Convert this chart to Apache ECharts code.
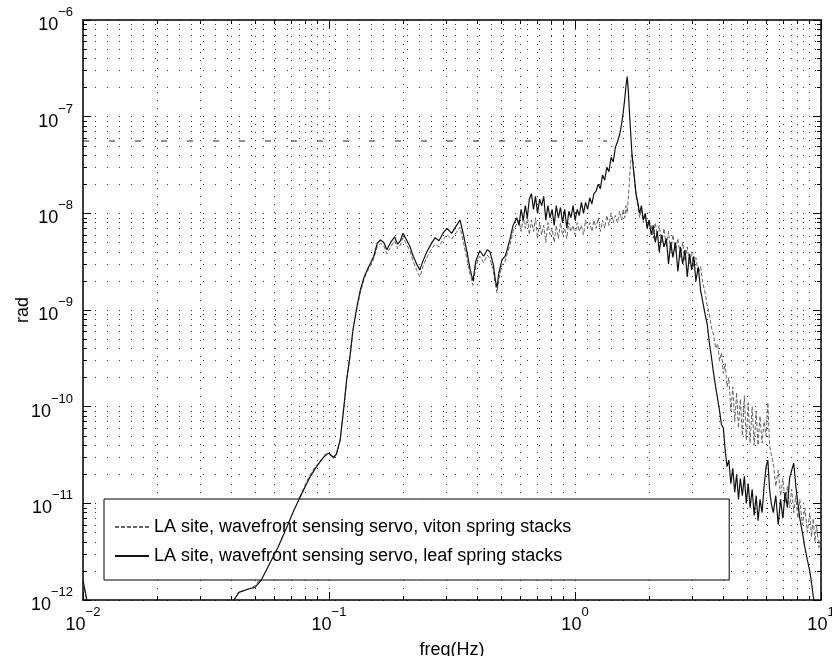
<!DOCTYPE html>
<html><head><meta charset="utf-8">
<script src="https://cdn.jsdelivr.net/npm/echarts@6/dist/echarts.min.js"></script>
<style>html,body{margin:0;padding:0;background:#fff}#c{width:832px;height:656px}</style>
</head><body><div id="c"></div>
<script>
const freqHz = [
0.0100,0.0103,0.0106,0.0120,0.0200,0.0300,0.0380,0.0400,0.0430,0.0470,
0.0500,0.0530,0.0570,0.0620,0.0670,0.0720,0.0780,0.0830,0.0880,0.0930,
0.0970,0.1000,0.1040,0.1070,0.1110,0.1150,0.1180,0.1220,0.1250,0.1300,
0.1340,0.1390,0.1430,0.1480,0.1520,0.1570,0.1620,0.1670,0.1720,0.1780,
0.1850,0.1900,0.1950,0.2000,0.2060,0.2130,0.2200,0.2270,0.2340,0.2420,
0.2500,0.2600,0.2700,0.2800,0.2900,0.3020,0.3150,0.3300,0.3410,0.3520,
0.3650,0.3750,0.3850,0.3950,0.4100,0.4250,0.4400,0.4510,0.4650,0.4750,
0.4820,0.4900,0.5050,0.5200,0.5300,0.5450,0.5600,
0.580,0.592,0.604,0.616,0.628,0.640,0.652,0.665,0.678,0.691,
0.704,0.718,0.732,0.746,0.761,0.776,0.791,0.807,0.823,0.839,
0.856,0.873,0.890,0.908,0.926,0.944,0.963,0.982,1.001,1.021,
1.041,1.062,1.083,1.104,1.126,1.148,1.171,1.194,
1.218,1.243,1.268,1.294,1.320,1.347,1.374,1.402,1.430,1.459,
1.488,1.518,1.548,1.570,1.592,1.612,1.630,1.646,1.662,1.680,
1.700,1.720,1.745,1.770,1.800,1.830,1.862,1.895,1.930,1.965,2.000,
2.04,2.08,2.12,2.16,2.20,2.25,2.30,2.35,2.40,2.45,
2.50,2.56,2.62,2.68,2.74,2.80,2.86,2.92,2.98,3.04,
3.10,3.17,3.24,3.31,
3.38,3.45,3.52,3.59,3.66,3.73,3.80,3.87,3.94,4.01,4.08,4.15,4.22,
4.30,4.38,4.46,4.54,4.62,4.70,4.79,4.88,4.97,5.06,
5.15,5.25,5.35,5.45,5.55,5.65,5.76,5.87,5.98,6.08,6.18,6.28,
6.40,6.55,6.70,6.85,7.00,7.15,7.30,7.45,7.60,7.75,
7.90,8.05,8.20,8.40,8.60,8.80,9.00,9.15,9.30,9.45,9.60,9.80,10.0
];
const leafRad = [
1.6e-12,1.1e-12,7e-13,4e-13,3e-13,3e-13,5e-13,9e-13,1.2e-12,1.3e-12,
1.35e-12,1.6e-12,2.3e-12,3.5e-12,5.5e-12,8.5e-12,1.3e-11,1.8e-11,2.3e-11,2.8e-11,
3.2e-11,3.3e-11,3.0e-11,3.2e-11,4.5e-11,1.0e-10,1.9e-10,3.5e-10,6.1e-10,1.1e-9,
1.6e-9,2.2e-9,2.6e-9,3.1e-9,3.6e-9,4.9e-9,5.3e-9,5.0e-9,4.2e-9,5.0e-9,
5.7e-9,4.8e-9,5.2e-9,6.2e-9,5.4e-9,4.6e-9,3.6e-9,3.0e-9,2.6e-9,3.3e-9,
4.0e-9,4.8e-9,5.6e-9,5.2e-9,6.2e-9,7.0e-9,6.2e-9,7.5e-9,8.5e-9,6.0e-9,
3.8e-9,2.6e-9,2.0e-9,3.2e-9,4.1e-9,3.6e-9,4.2e-9,4.0e-9,3.0e-9,2.0e-9,
1.7e-9,2.4e-9,3.3e-9,3.6e-9,4.2e-9,5.5e-9,7.5e-9,
9.0e-9,7.5e-9,1.1e-8,8.5e-9,1.2e-8,9.0e-9,1.4e-8,1.6e-8,1.1e-8,1.5e-8,
1.0e-8,1.4e-8,1.2e-8,1.5e-8,8.5e-9,1.2e-8,9.0e-9,1.1e-8,7.5e-9,1.2e-8,
9.0e-9,1.15e-8,8.0e-9,1.1e-8,7.0e-9,1.05e-8,9.0e-9,1.2e-8,8.5e-9,1.1e-8,
9.5e-9,1.3e-8,1.0e-8,1.3e-8,1.1e-8,1.45e-8,1.25e-8,1.6e-8,
1.7e-8,2.0e-8,1.8e-8,2.5e-8,2.2e-8,3.0e-8,2.7e-8,3.8e-8,3.4e-8,4.8e-8,
5.5e-8,6.5e-8,8.5e-8,1.1e-7,1.5e-7,2.1e-7,2.6e-7,1.9e-7,1.2e-7,7.5e-8,
4.5e-8,3.2e-8,2.3e-8,1.6e-8,1.3e-8,1.0e-8,1.2e-8,8.5e-9,1.0e-8,7.0e-9,8.5e-9,
6.0e-9,7.5e-9,5.0e-9,6.5e-9,4.0e-9,6.0e-9,4.5e-9,5.5e-9,3.0e-9,5.0e-9,
3.5e-9,5.0e-9,2.5e-9,4.5e-9,3.0e-9,4.2e-9,2.2e-9,3.8e-9,2.6e-9,3.6e-9,
2.0e-9,2.8e-9,1.6e-9,1.2e-9,
9.0e-10,7.0e-10,4.5e-10,3.2e-10,2.2e-10,1.6e-10,1.2e-10,9.0e-11,6.5e-11,6.0e-11,3.5e-11,2.4e-11,2.8e-11,
1.6e-11,2.3e-11,1.3e-11,2.0e-11,1.1e-11,1.8e-11,1.2e-11,1.9e-11,1.0e-11,1.6e-11,
9.0e-12,1.4e-11,7.5e-12,1.2e-11,6.6e-12,1.1e-11,8.0e-12,1.5e-11,2.4e-11,2.8e-11,1.4e-11,1.0e-11,
8.0e-12,1.2e-11,6.0e-12,1.1e-11,7.0e-12,1.3e-11,9.0e-12,1.8e-11,2.2e-11,2.6e-11,
1.5e-11,1.0e-11,7.0e-12,5.0e-12,3.5e-12,2.6e-12,2.0e-12,1.5e-12,1.1e-12,8.0e-13,6.0e-13,4.5e-13,4.0e-13
];
const vitonRad = [
1.5e-12,1.05e-12,7e-13,4e-13,3e-13,3e-13,5e-13,9e-13,1.2e-12,1.3e-12,
1.4e-12,1.7e-12,2.4e-12,3.6e-12,5.8e-12,8.8e-12,1.35e-11,1.9e-11,2.4e-11,2.8e-11,
3.1e-11,3.3e-11,2.9e-11,3.1e-11,4.6e-11,1.0e-10,1.9e-10,3.4e-10,6.0e-10,1.05e-9,
1.5e-9,2.1e-9,2.5e-9,2.9e-9,3.4e-9,4.5e-9,4.9e-9,4.6e-9,3.8e-9,4.5e-9,
5.2e-9,4.3e-9,4.7e-9,5.6e-9,4.9e-9,4.1e-9,3.2e-9,2.6e-9,2.2e-9,2.9e-9,
3.5e-9,4.2e-9,4.8e-9,4.5e-9,5.3e-9,6.0e-9,5.4e-9,6.4e-9,7.2e-9,5.0e-9,
3.2e-9,2.3e-9,1.8e-9,2.8e-9,3.6e-9,3.1e-9,3.7e-9,3.4e-9,2.6e-9,1.8e-9,
1.5e-9,2.1e-9,2.9e-9,3.2e-9,3.8e-9,4.8e-9,6.5e-9,
7.8e-9,8.5e-9,6.5e-9,9.0e-9,7.0e-9,9.5e-9,6.0e-9,8.5e-9,6.5e-9,9.0e-9,
5.5e-9,8.0e-9,6.0e-9,7.5e-9,5.0e-9,8.0e-9,6.0e-9,7.0e-9,5.0e-9,7.5e-9,
5.5e-9,8.0e-9,6.0e-9,7.0e-9,5.5e-9,8.0e-9,6.5e-9,7.5e-9,6.0e-9,8.0e-9,
6.5e-9,7.5e-9,6.0e-9,8.5e-9,7.0e-9,8.0e-9,6.5e-9,8.5e-9,
7.0e-9,9.0e-9,6.5e-9,8.5e-9,7.0e-9,9.5e-9,7.5e-9,1.0e-8,8.0e-9,9.5e-9,
8.0e-9,1.05e-8,8.5e-9,1.1e-8,9.0e-9,1.2e-8,1.0e-8,1.4e-8,2.0e-8,3.2e-8,
4.2e-8,3.5e-8,2.2e-8,1.5e-8,1.2e-8,9.0e-9,1.1e-8,8.0e-9,9.5e-9,7.0e-9,8.5e-9,
7.5e-9,5.5e-9,8.0e-9,6.0e-9,7.5e-9,5.0e-9,7.0e-9,4.5e-9,6.5e-9,4.0e-9,
6.0e-9,4.0e-9,5.5e-9,3.5e-9,5.0e-9,3.2e-9,4.5e-9,3.0e-9,4.0e-9,2.8e-9,
3.5e-9,2.4e-9,2.8e-9,1.9e-9,
1.5e-9,1.1e-9,9.0e-10,6.5e-10,5.5e-10,4.0e-10,4.5e-10,3.0e-10,3.6e-10,2.2e-10,2.8e-10,1.6e-10,2.0e-10,
9.0e-11,1.6e-10,7.0e-11,1.4e-10,6.0e-11,1.2e-10,5.0e-11,1.3e-10,4.5e-11,1.1e-10,
4.2e-11,1.0e-10,4.0e-11,9.0e-11,4.0e-11,8.0e-11,4.2e-11,7.0e-11,5.0e-11,1.1e-10,4.0e-11,3.2e-11,
2.6e-11,1.5e-11,2.2e-11,1.2e-11,1.8e-11,1.0e-11,1.5e-11,9.0e-12,1.4e-11,8.0e-12,
1.2e-11,7.0e-12,1.1e-11,6.0e-12,9.0e-12,5.0e-12,8.0e-12,4.5e-12,7.0e-12,4.0e-12,6.0e-12,3.5e-12,4.5e-12
];
const seriesNames = ['LA site, wavefront sensing servo, viton spring stacks',
                     'LA site, wavefront sensing servo, leaf spring stacks'];
const xTickExps = [-2, -1, 0, 1];
const yTickExps = [-12, -11, -10, -9, -8, -7, -6];
const xAxisTitle = 'freq(Hz)';
const yAxisTitle = 'rad';
const traceFreq = [0.01, 1.35];
const traceRad = [5.6e-8, 5.6e-8];

const FONT = '"Liberation Sans", Arial, Helvetica, sans-serif';
function powLabel(exps) {
  return function (v) {
    const e = Math.round(Math.log10(v));
    if (exps.indexOf(e) < 0) return '';
    return '{b|10}{s|' + (e < 0 ? '\u2212' : '') + Math.abs(e) + '}';
  };
}
const rich = {
  b: {fontSize: 18, lineHeight: 28, verticalAlign: 'bottom', fontFamily: FONT, color: '#000'},
  s: {fontSize: 13, lineHeight: 12, verticalAlign: 'top', fontFamily: FONT, color: '#000'}
};
const dotsV = {type: [1, 7], color: '#333', width: 1};
const dotsH = {type: [1, 11], color: '#333', width: 1};
function baseAxis(extra) {
  return Object.assign({
    type: 'log', logBase: 10,
    axisLine: {show: true, onZero: false, lineStyle: {color: '#000', width: 1.5}},
    axisTick: {show: true, inside: true, length: 8, lineStyle: {color: '#000', width: 1}},
    minorTick: {show: true, splitNumber: 9, length: 4, lineStyle: {color: '#000', width: 1}}
  }, extra);
}
const chart = echarts.init(document.getElementById('c'), null, {renderer: 'canvas'});
chart.setOption({
  animation: false,
  backgroundColor: '#fff',
  grid: {left: 83, right: 11, top: 20, bottom: 56, containLabel: false, outerBoundsMode: 'none'},
  xAxis: [
    baseAxis({min: 0.01, max: 10, splitNumber: 3, position: 'bottom',
      axisLabel: {formatter: powLabel(xTickExps), rich: rich, margin: 6, hideOverlap: false},
      splitLine: {show: true, lineStyle: dotsV},
      minorSplitLine: {show: true, lineStyle: dotsV},
      name: xAxisTitle, nameLocation: 'middle', nameGap: 41, nameMoveOverlap: false,
      nameTextStyle: {fontSize: 18, fontFamily: FONT, color: '#000'}}),
    baseAxis({min: 0.01, max: 10, splitNumber: 3, position: 'top',
      axisLabel: {show: false}, splitLine: {show: false}})
  ],
  yAxis: [
    baseAxis({min: 1e-12, max: 1e-6, splitNumber: 6, position: 'left',
      axisLabel: {formatter: powLabel(yTickExps), rich: rich, margin: 10},
      splitLine: {show: true, lineStyle: dotsH},
      minorSplitLine: {show: true, lineStyle: dotsH},
      name: yAxisTitle, nameLocation: 'middle', nameGap: 51, nameMoveOverlap: false,
      nameTextStyle: {fontSize: 18, fontFamily: FONT, color: '#000'}}),
    baseAxis({min: 1e-12, max: 1e-6, splitNumber: 6, position: 'right',
      axisLabel: {show: false}, splitLine: {show: false}})
  ],
  legend: {
    data: seriesNames, orient: 'vertical', left: 104, top: 499,
    itemWidth: 34, itemHeight: 14, itemGap: 7,
    padding: [17, 158, 13, 10],
    borderColor: '#000', borderWidth: 1, backgroundColor: '#fff',
    itemStyle: {opacity: 0},
    textStyle: {fontSize: 18, fontFamily: FONT, color: '#000', lineHeight: 22}
  },
  series: [
    {type: 'line', name: seriesNames[0], xAxisIndex: 0, yAxisIndex: 0,
     data: freqHz.map((f, i) => [f, vitonRad[i]]), symbol: 'none', showSymbol: false,
     itemStyle: {color: '#666', opacity: 0},
     lineStyle: {color: '#666', width: 1, type: [4, 2]}, clip: true, z: 3},
    {type: 'line', name: seriesNames[1], xAxisIndex: 0, yAxisIndex: 0,
     data: freqHz.map((f, i) => [f, leafRad[i]]), symbol: 'none', showSymbol: false,
     itemStyle: {color: '#111', opacity: 0},
     lineStyle: {color: '#111', width: 1.2}, clip: true, z: 4},
    {type: 'line', name: 'trace', xAxisIndex: 0, yAxisIndex: 0, silent: true,
     data: traceFreq.map((f, i) => [f, traceRad[i]]), symbol: 'none',
     lineStyle: {color: '#222', width: 1, type: [6, 20]}, z: 2}
  ]
});
</script></body></html>
